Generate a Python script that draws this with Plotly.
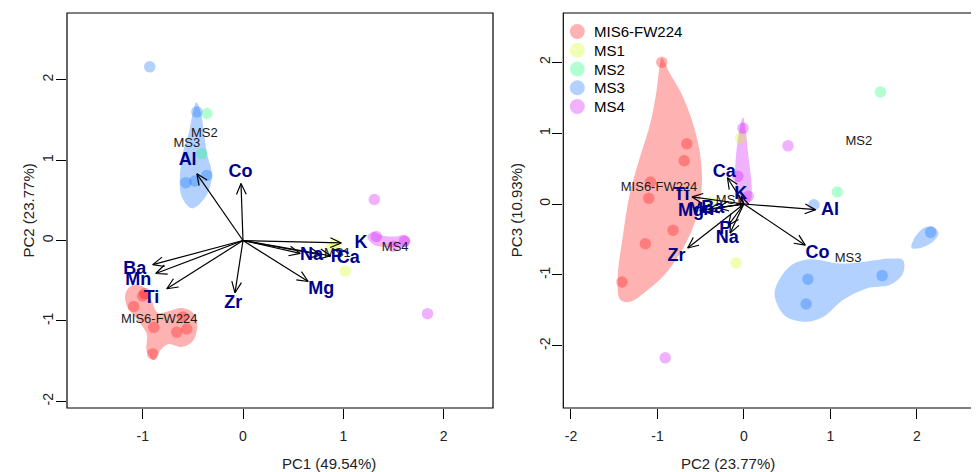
import math
import numpy as np
import plotly.graph_objects as go

# page body has an 8px margin; the figure fills the rest of the 979x472 window
OFF = 8
WF, HF = 979 - OFF, 472 - OFF

# ---------------- data ----------------
groups = ["MIS6-FW224", "MS1", "MS2", "MS3", "MS4"]
group_rgb = [(255, 0, 0), (204, 255, 0), (0, 255, 102), (0, 102, 255), (204, 0, 255)]

# sample scores (PC1, PC2, PC3) per group
mis6_pc1 = [-0.60, -0.98, -1.00, -0.89, -0.56, -1.09, -0.66, -0.90]
mis6_pc2 = [-0.95, -0.66, -0.69, -1.08, -1.10, -0.82, -1.14, -1.41]
mis6_pc3 = [2.00, 0.85, 0.61, 0.31, 0.08, -0.37, -0.56, -1.10]

ms1_pc1 = [0.92, 0.88, 1.02]
ms1_pc2 = [-0.04, -0.09, -0.38]
ms1_pc3 = [0.93, -0.83, 0.03]

ms2_pc1 = [-0.36, -0.41]
ms2_pc2 = [1.58, 1.08]
ms2_pc3 = [1.58, 0.17]

ms3_pc1 = [-0.93, -0.46, -0.57, -0.48, -0.36]
ms3_pc2 = [2.16, 1.60, 0.72, 0.74, 0.81]
ms3_pc3 = [-0.40, -1.01, -1.41, -1.06, -0.01]

ms4_pc1 = [1.31, 1.33, 1.50, 1.61, 1.84]
ms4_pc2 = [0.51, 0.05, -0.07, -0.01, -0.91]
ms4_pc3 = [0.82, 0.11, 0.39, 1.07, -2.17]

# variable loadings
elements = ["Al", "Co", "Ba", "Mn", "Ti", "Zr", "K", "Na", "P", "Ca", "Mg"]
load_pc1 = [-0.46, -0.02, -0.90, -0.87, -0.76, -0.08, 0.98, 0.57, 0.78, 0.875, 0.65]
load_pc2 = [0.83, 0.71, -0.30, -0.41, -0.60, -0.65, -0.03, -0.16, -0.18, -0.19, -0.51]
load_pc3 = [-0.08, -0.58, -0.05, -0.08, 0.10, -0.62, 0.11, -0.41, -0.30, 0.37, -0.09]

# smoothed group outlines (PC1 vs PC2)
hull12_mis6_x = [-1.09, -0.97, -0.91, -0.85, -0.74, -0.60, -0.49, -0.455, -0.50, -0.61, -0.75, -0.83, -0.89, -0.96, -0.96, -1.06, -1.16, -1.17, -1.09]
hull12_mis6_y = [-0.55, -0.60, -0.75, -0.90, -0.875, -0.84, -0.91, -1.05, -1.25, -1.325, -1.29, -1.375, -1.49, -1.375, -1.16, -0.975, -0.81, -0.65, -0.55]
hull12_ms3_x = [-0.465, -0.42, -0.39, -0.36, -0.31, -0.375, -0.51, -0.61, -0.63, -0.60, -0.54, -0.50, -0.465]
hull12_ms3_y = [1.72, 1.59, 1.34, 1.09, 0.81, 0.54, 0.40, 0.54, 0.75, 1.09, 1.34, 1.59, 1.72]
hull12_ms4_x = [1.24, 1.30, 1.40, 1.52, 1.62, 1.67, 1.64, 1.55, 1.42, 1.30, 1.24]
hull12_ms4_y = [0.05, 0.11, 0.06, 0.05, 0.07, 0.0, -0.07, -0.08, -0.08, -0.05, 0.05]

# smoothed group outlines (PC2 vs PC3)
hull23_mis6_x = [-0.95, -0.86, -0.72, -0.58, -0.50, -0.49, -0.57, -0.74, -0.92, -1.12, -1.32, -1.43, -1.46, -1.40, -1.32, -1.20, -1.08, -1.01, -0.98, -0.95]
hull23_mis6_y = [2.06, 1.85, 1.55, 1.10, 0.65, 0.20, -0.27, -0.70, -1.00, -1.22, -1.38, -1.35, -1.05, -0.45, 0.15, 0.67, 1.15, 1.60, 1.90, 2.06]
hull23_ms3_x = [0.36, 0.53, 0.76, 1.11, 1.42, 1.69, 1.84, 1.84, 1.69, 1.42, 1.15, 0.92, 0.73, 0.49, 0.38, 0.36,
                None, 1.94, 1.96, 2.08, 2.19, 2.25, 2.19, 2.04, 1.94]
hull23_ms3_y = [-1.21, -0.88, -0.78, -0.84, -0.81, -0.77, -0.79, -0.98, -1.14, -1.19, -1.35, -1.59, -1.66, -1.59, -1.40, -1.21,
                None, -0.62, -0.51, -0.34, -0.32, -0.41, -0.53, -0.62, -0.62]
hull23_ms4_x = [-0.01, 0.02, 0.05, 0.09, 0.08, 0.02, -0.06, -0.10, -0.09, -0.05, -0.01]
hull23_ms4_y = [1.22, 1.05, 0.70, 0.25, 0.05, -0.02, 0.05, 0.30, 0.70, 1.05, 1.22]

pc1_label = "PC1 (49.54%)"
pc2_label = "PC2 (23.77%)"
pc3_label = "PC3 (10.93%)"

# ---------------- layout geometry (window pixels) ----------------
def fx(px):
    return (px - OFF) / WF

def fy(py):
    return (HF - (py - OFF)) / HF

BOX_TOP, BOX_BOT = 13, 408
L_X0, L_X1 = 67, 493
R_X0, R_X1 = 563.3, 990
L_XR = [-1.755, 2.493]
L_YR = [-2.083, 2.83]
R_XR = [-2.089, (979 - 744) / 86.4]
R_YR = [-2.877, 2.694]
ydom = [fy(BOX_BOT), fy(BOX_TOP)]

scores = {
    "MIS6-FW224": (mis6_pc1, mis6_pc2, mis6_pc3),
    "MS1": (ms1_pc1, ms1_pc2, ms1_pc3),
    "MS2": (ms2_pc1, ms2_pc2, ms2_pc3),
    "MS3": (ms3_pc1, ms3_pc2, ms3_pc3),
    "MS4": (ms4_pc1, ms4_pc2, ms4_pc3),
}
rgba = {g: "rgba(%d,%d,%d,0.3)" % c for g, c in zip(groups, group_rgb)}

FONT = "Liberation Sans, Arial, Helvetica, sans-serif"
fig = go.Figure()

# hulls
def add_hull(x, y, g, xa, ya):
    fig.add_trace(go.Scatter(x=x, y=y, mode="lines", fill="toself", fillcolor=rgba[g],
                             line=dict(width=0, shape="spline", smoothing=1.0, color=rgba[g]),
                             hoverinfo="skip", showlegend=False, xaxis=xa, yaxis=ya))

add_hull(hull12_mis6_x, hull12_mis6_y, "MIS6-FW224", "x", "y")
add_hull(hull12_ms3_x, hull12_ms3_y, "MS3", "x", "y")
add_hull(hull12_ms4_x, hull12_ms4_y, "MS4", "x", "y")
add_hull(hull23_mis6_x, hull23_mis6_y, "MIS6-FW224", "x2", "y2")
add_hull(hull23_ms3_x, hull23_ms3_y, "MS3", "x2", "y2")
add_hull(hull23_ms4_x, hull23_ms4_y, "MS4", "x2", "y2")

# points
for g in groups:
    p1, p2, p3 = scores[g]
    for xs, ys, xa, ya in ((p1, p2, "x", "y"), (p2, p3, "x2", "y2")):
        fig.add_trace(go.Scatter(x=xs, y=ys, mode="markers", name=g,
                                 marker=dict(size=11.5, color=rgba[g], line=dict(width=0)),
                                 showlegend=False, hoverinfo="skip", xaxis=xa, yaxis=ya))

# group labels at centroids
for xa, ya, ia, ib, skip in (("x", "y", 0, 1, ()), ("x2", "y2", 1, 2, ("MS4",))):
    cx, cy, tt = [], [], []
    for g in groups:
        if g in skip:
            continue
        s = scores[g]
        cx.append(float(np.mean(s[ia])))
        cy.append(float(np.mean(s[ib])))
        tt.append(g)
    fig.add_trace(go.Scatter(x=cx, y=cy, mode="text", text=tt,
                             textfont=dict(family=FONT, size=13, color="#1a1a1a"),
                             showlegend=False, hoverinfo="skip", xaxis=xa, yaxis=ya))

# loading arrows
def arrows(lx, ly, xr, yr, px0, px1):
    sx = (px1 - px0) / (xr[1] - xr[0])
    sy = (BOX_BOT - BOX_TOP) / (yr[1] - yr[0])
    L, ang = 12.0, math.radians(24)
    xs, ys = [], []
    for x, y in zip(lx, ly):
        xs += [0, x, None]
        ys += [0, y, None]
        px, py = x * sx, y * sy
        n = math.hypot(px, py)
        ux, uy = px / n, py / n
        bx, by = [], []
        for s in (1, -1):
            a = s * ang
            rx = ux * math.cos(a) - uy * math.sin(a)
            ry = ux * math.sin(a) + uy * math.cos(a)
            bx.append(x - L * rx / sx)
            by.append(y - L * ry / sy)
        xs += [bx[0], x, bx[1], None]
        ys += [by[0], y, by[1], None]
    return xs, ys

for (lx, ly, xr, yr, p0, p1, xa, ya) in (
        (load_pc1, load_pc2, L_XR, L_YR, L_X0, L_X1, "x", "y"),
        (load_pc2, load_pc3, R_XR, R_YR, R_X0, R_X1, "x2", "y2")):
    ax_, ay_ = arrows(lx, ly, xr, yr, p0, p1)
    fig.add_trace(go.Scatter(x=ax_, y=ay_, mode="lines", line=dict(color="black", width=1.2),
                             showlegend=False, hoverinfo="skip", xaxis=xa, yaxis=ya))
    fig.add_trace(go.Scatter(x=[1.2 * v for v in lx], y=[1.2 * v for v in ly], mode="text",
                             text=elements,
                             textfont=dict(family=FONT, size=18, color="#00008B", weight="bold"),
                             showlegend=False, hoverinfo="skip", xaxis=xa, yaxis=ya))

# legend (top-left of right panel), drawn on a full-page overlay axis in pixels
LEG_X, LEG_Y0, LEG_STEP, LEG_TXT = 577.3, 31.5, 18.75, 591.5
fig.add_trace(go.Scatter(
    x=[LEG_X - OFF] * len(groups),
    y=[LEG_Y0 + i * LEG_STEP - OFF for i in range(len(groups))],
    mode="markers", marker=dict(size=15, color=[rgba[g] for g in groups], line=dict(width=0)),
    showlegend=False, hoverinfo="skip", xaxis="x3", yaxis="y3"))
legend_ann = [dict(text=g, x=fx(LEG_TXT), y=fy(LEG_Y0 + i * LEG_STEP), xref="paper", yref="paper",
                   xanchor="left", yanchor="middle", showarrow=False,
                   font=dict(family=FONT, size=15, color="black"))
              for i, g in enumerate(groups)]

axis_common = dict(showgrid=False, zeroline=False, showline=False, ticks="outside",
                   ticklen=10, tickwidth=1, tickcolor="black",
                   tickfont=dict(family=FONT, size=14, color="#222"),
                   tickvals=[-2, -1, 0, 1, 2], ticktext=["-2", "-1", "0", "1", "2"])

fig.update_layout(
    width=WF, height=HF, margin=dict(l=0, r=0, t=0, b=0),
    paper_bgcolor="white", plot_bgcolor="rgba(0,0,0,0)",
    xaxis=dict(domain=[fx(L_X0), fx(L_X1)], range=L_XR, anchor="y", ticklabelstandoff=5, **axis_common),
    yaxis=dict(domain=ydom, range=L_YR, anchor="x", tickangle=-90, ticklabelstandoff=-3, **axis_common),
    xaxis2=dict(domain=[fx(R_X0), 1.0], range=R_XR, anchor="y2", ticklabelstandoff=5, **axis_common),
    yaxis2=dict(domain=ydom, range=R_YR, anchor="x2", tickangle=-90, ticklabelstandoff=-3, **axis_common),
    xaxis3=dict(domain=[0, 1], range=[0, WF], visible=False, fixedrange=True, anchor="y3"),
    yaxis3=dict(domain=[0, 1], range=[HF, 0], visible=False, fixedrange=True, anchor="x3"),
    showlegend=False,
    shapes=[
        dict(type="rect", xref="paper", yref="paper", x0=fx(L_X0), x1=fx(L_X1), y0=ydom[0], y1=ydom[1],
             line=dict(color="black", width=1.2)),
        dict(type="rect", xref="paper", yref="paper", x0=fx(R_X0), x1=fx(R_X1), y0=ydom[0], y1=ydom[1],
             line=dict(color="black", width=1.2)),
    ],
    annotations=[
        dict(text=pc1_label, x=fx((L_X0 + L_X1) / 2), y=fy(463), xref="paper", yref="paper",
             showarrow=False, font=dict(family=FONT, size=15, color="#222"), yanchor="middle"),
        dict(text=pc2_label, x=fx((R_X0 + R_X1) / 2), y=fy(463), xref="paper", yref="paper",
             showarrow=False, font=dict(family=FONT, size=15, color="#222"), yanchor="middle"),
        dict(text=pc2_label, x=fx(28), y=fy((BOX_TOP + BOX_BOT) / 2), xref="paper", yref="paper",
             showarrow=False, textangle=-90, font=dict(family=FONT, size=15, color="#222"), xanchor="center"),
        dict(text=pc3_label, x=fx(516.7), y=fy((BOX_TOP + BOX_BOT) / 2), xref="paper", yref="paper",
             showarrow=False, textangle=-90, font=dict(family=FONT, size=15, color="#222"), xanchor="center"),
    ] + legend_ann,
)

fig.write_html("out.html")
